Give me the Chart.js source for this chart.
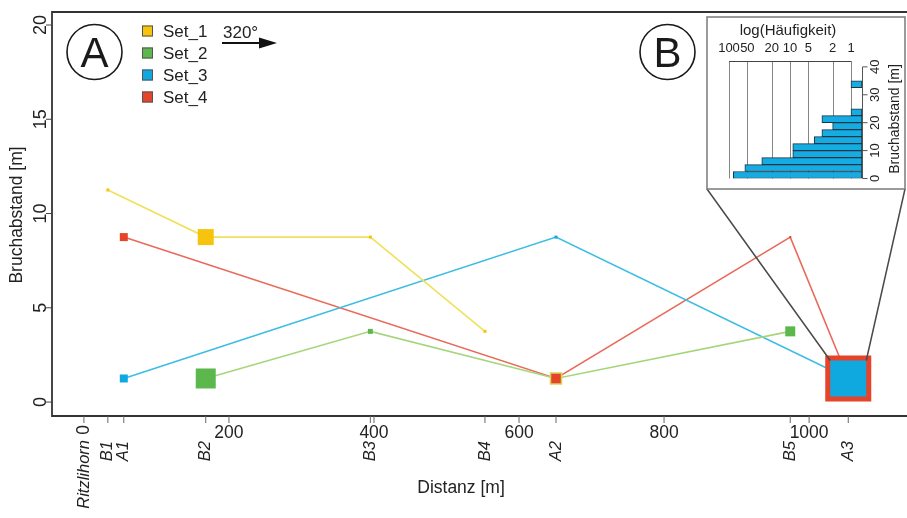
<!DOCTYPE html>
<html><head><meta charset="utf-8">
<script src="https://cdn.jsdelivr.net/npm/chart.js@4.4.1/dist/chart.umd.min.js"></script>
<style>
html,body{margin:0;padding:0;background:#fff;overflow:hidden;}
#wrap{position:relative;width:907px;height:518px;}
#main{position:absolute;left:0;top:0;}
#inset{position:absolute;left:707px;top:17px;}
</style></head><body>
<div id="wrap"><canvas id="main" width="907" height="518"></canvas><canvas id="inset" width="198" height="172"></canvas></div>
<script>
// ---------- data ----------
const locNames = ['B1','A1','B2','B3','B4','A2','B5','A3'];
const locDist  = [33, 55, 168, 395, 553, 651, 974, 1054];
const originLabel = 'Ritzlihorn';
const distTicks = [0, 200, 400, 600, 800, 1000];
const spacingTicks = [0, 5, 10, 15, 20];

const seriesNames = ['Set_1','Set_2','Set_3','Set_4'];
const set1Sites = ['B1','B2','B3','B4'];
const set1Spacing = [11.25, 8.75, 8.75, 3.75];
const set1Marker = [3, 16, 3, 3];
const set2Sites = ['B2','B3','A2','B5'];
const set2Spacing = [1.25, 3.75, 1.25, 3.75];
const set2Marker = [20, 5, 8, 10];
const set3Sites = ['A1','A2','A3'];
const set3Spacing = [1.25, 8.75, 1.25];
const set3Marker = [8, 3, 36];
const set4Sites = ['A1','A2','B5','A3'];
const set4Spacing = [8.75, 1.25, 8.75, 1.25];
const set4Marker = [8, 11, 2, 46];

// inset histogram (site A3)
const binWidth = 2.5;
const binStart = [0,2.5,5,7.5,10,12.5,15,17.5,20,22.5,25,27.5,30,32.5];
const binCount = [85,55,29,9,9,4,3,2,3,1,0,0,0,1];
const freqTicks = [100,50,20,10,5,2,1];
const insetSpacingTicks = [0,10,20,30,40];

// ---------- styling ----------
const F = '"Liberation Sans", Arial, Helvetica, sans-serif';
const series = [
  {name:seriesNames[0], sites:set1Sites, vals:set1Spacing, marker:set1Marker, line:'#efe25a', fill:'#f6c40c', layer:3},
  {name:seriesNames[1], sites:set2Sites, vals:set2Spacing, marker:set2Marker, line:'#a6d67c', fill:'#5cb84c', layer:2},
  {name:seriesNames[2], sites:set3Sites, vals:set3Spacing, marker:set3Marker, line:'#3bbde4', fill:'#0fa9df', layer:0},
  {name:seriesNames[3], sites:set4Sites, vals:set4Spacing, marker:set4Marker, line:'#e96a5a', fill:'#e6432b', layer:1, outlineSite:'A2', outline:'#d8d25a'}
];
const siteX = s => locDist[locNames.indexOf(s)];
const pts = (sites, vals) => sites.map((s,i)=>({x:siteX(s), y:vals[i]}));

const datasets = [];
series.forEach((s,k)=>{
  datasets.push({label:s.name+'_line', data:pts(s.sites,s.vals), showLine:true, borderColor:s.line,
    borderWidth:1.6, pointRadius:0, pointHoverRadius:0, tension:0, fill:false, order:10+k});
  datasets.push({label:s.name, data:pts(s.sites,s.vals), showLine:false, pointStyle:'rect',
    pointRadius:s.marker.map(m=>m/Math.SQRT2), pointHoverRadius:s.marker.map(m=>m/Math.SQRT2),
    pointBackgroundColor:s.fill, pointBorderColor:s.outline||s.fill,
    pointBorderWidth:ctx=> (s.outlineSite && s.sites[ctx.dataIndex]===s.outlineSite) ? 1.5 : 0,
    order:s.layer});
});

function rotText(ctx, txt, x, y, align){
  ctx.save(); ctx.translate(x,y); ctx.rotate(-Math.PI/2);
  ctx.textAlign = align; ctx.textBaseline = 'middle'; ctx.fillText(txt,0,0); ctx.restore();
}

const mainDecor = {
  id:'mainDecor',
  afterDatasetsDraw(chart){
    const {ctx, scales:{x,y}} = chart;
    const cx = x.getPixelForValue(siteX('A3'));
    const cy = y.getPixelForValue(set3Spacing[2]);
    const h = set3Marker[2]/2;
    ctx.save();
    ctx.strokeStyle='#4a4a4a'; ctx.lineWidth=1.5;
    ctx.beginPath(); ctx.moveTo(707,189); ctx.lineTo(cx-h, cy-h);
    ctx.moveTo(905,189); ctx.lineTo(cx+h, cy-h); ctx.stroke();
    ctx.strokeStyle='#7a7a7a'; ctx.lineWidth=1.5; ctx.strokeRect(707,17,198,172);
    ctx.restore();
  },
  afterDraw(chart){
    const {ctx, chartArea:a, scales:{x,y}} = chart;
    ctx.save();
    // frame
    ctx.strokeStyle='#333'; ctx.lineWidth=1.8;
    ctx.beginPath();
    ctx.moveTo(a.right, a.top); ctx.lineTo(a.left, a.top); ctx.lineTo(a.left, a.bottom); ctx.lineTo(a.right, a.bottom);
    ctx.stroke();
    // y ticks
    ctx.lineWidth=1; ctx.strokeStyle='#444'; ctx.fillStyle='#222';
    ctx.font = '18px '+F;
    spacingTicks.forEach(v=>{
      const py = y.getPixelForValue(v);
      ctx.beginPath(); ctx.moveTo(a.left-6, py); ctx.lineTo(a.left, py); ctx.stroke();
      rotText(ctx, String(v), a.left-11, py, 'center');
    });
    // x ticks
    ctx.strokeStyle='#666';
    distTicks.concat(locDist).forEach(v=>{
      const px = x.getPixelForValue(v);
      ctx.beginPath(); ctx.moveTo(px, a.bottom); ctx.lineTo(px, a.bottom+7); ctx.stroke();
    });
    ctx.font = '17.5px '+F; ctx.textBaseline='middle'; ctx.textAlign='center';
    distTicks.forEach(v=>{
      const px = x.getPixelForValue(v);
      if (v===0) rotText(ctx, '0', px, a.bottom+14, 'center');
      else ctx.fillText(String(v), px, a.bottom+17);
    });
    ctx.font = 'italic 16.5px '+F;
    locNames.forEach((n,i)=>{
      rotText(ctx, n, x.getPixelForValue(locDist[i]), a.bottom+25, 'right');
    });
    rotText(ctx, originLabel, x.getPixelForValue(0), a.bottom+24, 'right');
    // axis titles
    ctx.font = '17.5px '+F;
    ctx.textAlign='center'; ctx.fillText('Distanz [m]', 461, 488);
    rotText(ctx, 'Bruchabstand [m]', 17, 215, 'center');
    // legend
    ctx.font = '17px '+F; ctx.textAlign='left'; ctx.textBaseline='middle';
    series.forEach((s,i)=>{
      const ly = 31 + i*22;
      ctx.fillStyle = s.fill; ctx.fillRect(142, ly-5.5, 11, 11);
      ctx.strokeStyle = '#555'; ctx.lineWidth=1; ctx.strokeRect(142.5, ly-5, 10, 10);
      ctx.fillStyle = '#222'; ctx.fillText(s.name, 163, ly+1);
    });
    // direction arrow
    ctx.fillStyle='#222'; ctx.fillText('320°', 223, 33);
    ctx.strokeStyle='#111'; ctx.lineWidth=1.8;
    ctx.beginPath(); ctx.moveTo(222,43); ctx.lineTo(262,43); ctx.stroke();
    ctx.fillStyle='#111'; ctx.beginPath(); ctx.moveTo(277,43); ctx.lineTo(259,37.5); ctx.lineTo(259,48.5); ctx.closePath(); ctx.fill();
    // panel labels
    [['A',94.5,52],['B',667.5,52]].forEach(([t,cx,cy])=>{
      ctx.strokeStyle='#1a1a1a'; ctx.lineWidth=1.6;
      ctx.beginPath(); ctx.arc(cx,cy,27.5,0,Math.PI*2); ctx.stroke();
      ctx.fillStyle='#1a1a1a'; ctx.font='42px '+F; ctx.textAlign='center'; ctx.textBaseline='alphabetic';
      ctx.fillText(t, cx, cy+15);
    });
    ctx.restore();
  }
};

new Chart(document.getElementById('main'), {
  type:'line',
  data:{datasets},
  options:{
    responsive:false, devicePixelRatio:1, animation:false, events:[],
    layout:{autoPadding:false, padding:{left:52, top:12, right:0, bottom:102}},
    scales:{
      x:{type:'linear', min:-44, max:1135, display:false, bounds:'data', offset:false},
      y:{type:'linear', min:-0.74, max:20.69, display:false, bounds:'data', offset:false}
    },
    plugins:{legend:{display:false}, tooltip:{enabled:false}}
  },
  plugins:[mainDecor]
});

// ---------- inset ----------
const insetDecor = {
  id:'insetDecor',
  beforeDatasetsDraw(chart){
    const {ctx, chartArea:a, scales:{x}} = chart;
    ctx.save();
    ctx.strokeStyle='#777'; ctx.lineWidth=0.9;
    freqTicks.forEach(v=>{
      const px = Math.round(x.getPixelForValue(v))+0.5;
      ctx.beginPath(); ctx.moveTo(px, a.top); ctx.lineTo(px, a.bottom); ctx.stroke();
    });
    ctx.strokeStyle='#444'; ctx.lineWidth=1;
    ctx.beginPath(); ctx.moveTo(x.getPixelForValue(freqTicks[0]), a.top+0.5);
    ctx.lineTo(x.getPixelForValue(freqTicks[freqTicks.length-1]), a.top+0.5); ctx.stroke();
    ctx.restore();
  },
  afterDatasetsDraw(chart){
    const {ctx, chartArea:a, scales:{x,y}} = chart;
    ctx.save();
    ctx.fillStyle='#222'; ctx.font='13px '+F; ctx.textAlign='center'; ctx.textBaseline='middle';
    freqTicks.forEach(v=>ctx.fillText(String(v), x.getPixelForValue(v), 31));
    ctx.font='15px '+F; ctx.fillText('log(Häufigkeit)', 81, 14);
    ctx.strokeStyle='#555'; ctx.lineWidth=1;
    const rx = Math.round(a.right)+0.5;
    ctx.beginPath(); ctx.moveTo(rx, y.getPixelForValue(0)); ctx.lineTo(rx, y.getPixelForValue(40)); ctx.stroke();
    ctx.font='13px '+F;
    insetSpacingTicks.forEach(v=>{
      const py = y.getPixelForValue(v);
      ctx.beginPath(); ctx.moveTo(rx, py); ctx.lineTo(rx+5, py); ctx.stroke();
      rotText(ctx, String(v), a.right+13, py, 'center');
    });
    ctx.font='14px '+F;
    rotText(ctx, 'Bruchabstand [m]', a.right+33, 102, 'center');
    ctx.restore();
  }
};

const insetData = binCount.map((c,i)=>({x:c, y:binStart[i]+binWidth/2})).filter(p=>p.x>0);
new Chart(document.getElementById('inset'), {
  type:'bar',
  data:{datasets:[{data:insetData, backgroundColor:'#14ace2', borderColor:'#1d3442', borderWidth:1,
    barPercentage:1, categoryPercentage:1, borderSkipped:false}]},
  options:{
    indexAxis:'y', responsive:false, devicePixelRatio:1, animation:false, events:[],
    layout:{autoPadding:false, padding:{left:22, right:43, top:44, bottom:10.5}},
    scales:{
      x:{type:'logarithmic', reverse:true, min:0.66, max:100, display:false, bounds:'data', offset:false},
      y:{type:'linear', min:0, max:42.1, display:false, bounds:'data', offset:false, ticks:{stepSize:10}}
    },
    plugins:{legend:{display:false}, tooltip:{enabled:false}}
  },
  plugins:[insetDecor]
});
</script>
</body></html>
